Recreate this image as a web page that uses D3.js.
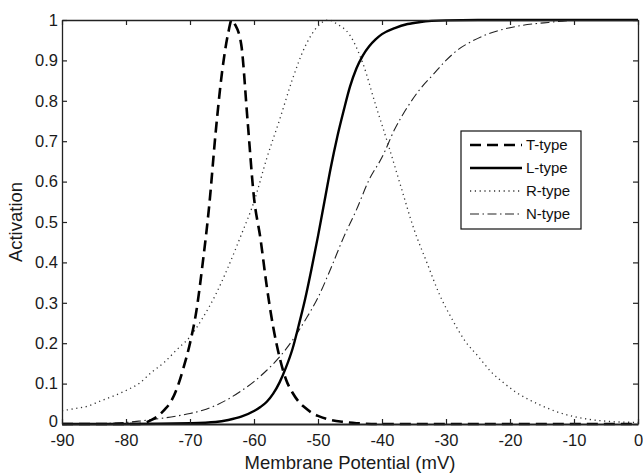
<!DOCTYPE html>
<html>
<head>
<meta charset="utf-8">
<script src="https://cdn.jsdelivr.net/npm/d3@7"></script>
<style>
  html, body { margin: 0; padding: 0; background: #fff; }
  svg { display: block; font-family: "Liberation Sans", Arial, sans-serif; }
</style>
</head>
<body>
<svg id="chart" width="643" height="473"></svg>
<script>
// Membrane potential (mV) and activation of each calcium channel type
const tTypeV = [-90, -84, -80, -78, -77, -76, -75, -74, -73, -72, -71, -70, -69, -68, -67, -66, -65, -64, -63.5, -63, -62, -61, -60, -59, -58, -57, -56, -55, -54, -53, -52, -51, -50, -48, -46, -44, -40, -30, -20, -10, 0];
const tTypeA = [0, 0, 0, 0, 0.003, 0.01, 0.02, 0.035, 0.055, 0.09, 0.14, 0.2, 0.28, 0.4, 0.54, 0.72, 0.87, 0.97, 1.0, 0.99, 0.94, 0.75, 0.56, 0.46, 0.34, 0.24, 0.165, 0.11, 0.078, 0.055, 0.04, 0.028, 0.02, 0.01, 0.005, 0.002, 0, 0, 0, 0, 0];

const lTypeV = [-90, -80, -70, -66, -64, -62, -60, -59, -58, -57, -56, -55, -54, -53, -52, -51, -50, -49, -48, -47, -46, -45, -44, -43, -42, -41, -40, -38, -36, -34, -30, -25, -20, -10, 0];
const lTypeA = [0, 0, 0.002, 0.005, 0.01, 0.018, 0.032, 0.042, 0.055, 0.075, 0.103, 0.14, 0.185, 0.245, 0.31, 0.385, 0.465, 0.55, 0.635, 0.71, 0.775, 0.835, 0.88, 0.912, 0.935, 0.952, 0.965, 0.98, 0.99, 0.995, 0.999, 1, 1, 1, 1];

const rTypeV = [-90, -88, -86, -84, -82, -80, -78, -76, -74, -72, -70, -68, -66, -64, -62, -60, -58, -56, -54, -52, -50, -48.4, -47, -45, -43, -41, -39, -37, -35, -33, -31, -29, -27, -25, -23, -21, -19, -17, -15, -13, -11, -9, -7, -5, -3, 0];
const rTypeA = [0.033, 0.038, 0.044, 0.057, 0.069, 0.083, 0.1, 0.128, 0.153, 0.185, 0.216, 0.263, 0.32, 0.39, 0.468, 0.55, 0.658, 0.753, 0.853, 0.935, 0.985, 1.0, 0.99, 0.962, 0.893, 0.79, 0.69, 0.585, 0.482, 0.4, 0.32, 0.258, 0.205, 0.168, 0.13, 0.102, 0.078, 0.06, 0.045, 0.032, 0.022, 0.015, 0.01, 0.007, 0.005, 0.004];

const nTypeV = [-90, -84, -80, -78, -76, -74, -72, -70, -68, -66, -64, -62, -60, -58, -56, -54, -52, -50, -48, -46, -44, -42, -40, -38, -36, -34, -32, -30, -28, -26, -24, -22, -20, -18, -16, -14, -12, -10, -5, 0];
const nTypeA = [0, 0.001, 0.004, 0.007, 0.011, 0.015, 0.02, 0.026, 0.034, 0.046, 0.062, 0.082, 0.105, 0.133, 0.166, 0.207, 0.257, 0.313, 0.385, 0.462, 0.53, 0.605, 0.66, 0.73, 0.785, 0.83, 0.865, 0.9, 0.928, 0.947, 0.962, 0.973, 0.981, 0.987, 0.991, 0.994, 0.997, 0.999, 1, 1];

const seriesNames = ["T-type", "L-type", "R-type", "N-type"];
const xTickValues = [-90, -80, -70, -60, -50, -40, -30, -20, -10, 0];
const yTickValues = [0, 0.1, 0.2, 0.3, 0.4, 0.5, 0.6, 0.7, 0.8, 0.9, 1];

// Stroke style for each channel type
const styles = {
  "T-type": { width: 2.6, dash: "11,6", color: "#000" },
  "L-type": { width: 2.4, dash: null, color: "#000" },
  "R-type": { width: 1.3, dash: "1.2,3.6", color: "#333" },
  "N-type": { width: 1.1, dash: "9,3.5,1.5,3.5", color: "#222" }
};

const svg = d3.select("#chart");
const margin = { left: 62, top: 20, right: 5, bottom: 49 };
const W = 643, H = 473;

const x = d3.scaleLinear().domain([-90, 0]).range([margin.left, W - margin.right]);
const y = d3.scaleLinear().domain([0, 1]).range([H - margin.bottom, margin.top]);

const series = [
  { name: "T-type", v: tTypeV, a: tTypeA },
  { name: "L-type", v: lTypeV, a: lTypeA },
  { name: "R-type", v: rTypeV, a: rTypeA },
  { name: "N-type", v: nTypeV, a: nTypeA }
];

const line = d3.line()
  .x(d => x(d[0]))
  .y(d => y(d[1]))
  .curve(d3.curveMonotoneX);

// Curves, drawn back to front so the heavy lines stay on top
const plot = svg.append("g");
["R-type", "N-type", "L-type", "T-type"].forEach(name => {
  const s = series.find(d => d.name === name);
  const st = styles[name];
  plot.append("path")
    .datum(s.v.map((v, i) => [v, s.a[i]]))
    .attr("d", line)
    .attr("fill", "none")
    .attr("stroke", st.color)
    .attr("stroke-width", st.width)
    .attr("stroke-dasharray", st.dash)
    .attr("stroke-linejoin", "round");
});

// Axes with inward ticks on all four sides
const tickLen = 5;
const fmtX = d => String(d);   // plain hyphen for negative values
const fmtY = d => (d === 0 || d === 1) ? String(d) : d3.format(".1f")(d);

const xBottom = svg.append("g")
  .attr("transform", `translate(0,${y(0)})`)
  .call(d3.axisBottom(x).tickValues(xTickValues).tickSizeInner(-tickLen).tickSizeOuter(0).tickPadding(10).tickFormat(fmtX));
const xTop = svg.append("g")
  .attr("transform", `translate(0,${y(1)})`)
  .call(d3.axisTop(x).tickValues(xTickValues).tickSizeInner(-tickLen).tickSizeOuter(0).tickFormat(""));
const yLeft = svg.append("g")
  .attr("transform", `translate(${x(-90)},0)`)
  .call(d3.axisLeft(y).tickValues(yTickValues).tickSizeInner(-tickLen).tickSizeOuter(0).tickPadding(4).tickFormat(fmtY));
const yRight = svg.append("g")
  .attr("transform", `translate(${x(0)},0)`)
  .call(d3.axisRight(y).tickValues(yTickValues).tickSizeInner(-tickLen).tickSizeOuter(0).tickFormat(""));

[xBottom, xTop, yLeft, yRight].forEach(g => {
  g.select(".domain").attr("stroke", "#222").attr("stroke-width", 1.3);
  g.selectAll(".tick line").attr("stroke", "#222").attr("stroke-width", 1.2);
  g.selectAll(".tick text")
    .attr("fill", "#1a1a1a")
    .style("font-size", "16.5px")
    .style("font-family", "'Liberation Sans', Arial, sans-serif");
});
xBottom.select(".domain").attr("stroke-width", 2);
// keep the lowest y label clear of the first x label
yLeft.selectAll(".tick text").filter(d => d === 0).attr("dy", "0.18em");

// Axis titles
svg.append("text")
  .attr("x", (x(-90) + x(0)) / 2)
  .attr("y", 469)
  .attr("text-anchor", "middle")
  .attr("fill", "#1a1a1a")
  .style("font-size", "18.5px")
  .text("Membrane Potential (mV)");

svg.append("text")
  .attr("transform", `translate(22,${(y(0) + y(1)) / 2}) rotate(-90)`)
  .attr("text-anchor", "middle")
  .attr("fill", "#1a1a1a")
  .style("font-size", "18.5px")
  .text("Activation");

// Legend
const legend = svg.append("g").attr("transform", "translate(461,131)");
legend.append("rect")
  .attr("width", 120).attr("height", 98)
  .attr("fill", "#fff").attr("stroke", "#111").attr("stroke-width", 1.2);
seriesNames.forEach((name, i) => {
  const st = styles[name];
  const yy = 14 + i * 23;
  legend.append("line")
    .attr("x1", 9).attr("x2", 61)
    .attr("y1", yy).attr("y2", yy)
    .attr("stroke", st.color)
    .attr("stroke-width", st.width)
    .attr("stroke-dasharray", st.dash);
  legend.append("text")
    .attr("x", 65).attr("y", yy)
    .attr("dy", "0.36em")
    .attr("fill", "#111")
    .style("font-size", "15px")
    .text(name);
});
</script>
</body>
</html>
